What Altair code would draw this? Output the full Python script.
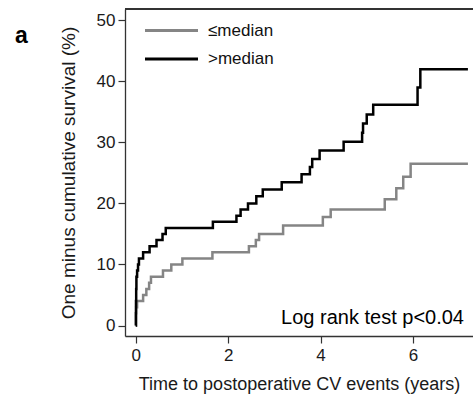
import altair as alt
import pandas as pd

# >median group (black)
hi_t = [0, 0.003, 0.006, 0.01, 0.015, 0.03, 0.05, 0.07, 0.16, 0.30, 0.45, 0.58, 0.65,
        1.67, 2.18, 2.27, 2.43, 2.61, 2.75, 3.16, 3.59, 3.77, 3.82, 3.98, 4.50,
        4.90, 4.92, 5.00, 5.14, 6.10, 6.16, 7.19]
hi_v = [0, 2, 4, 6, 8, 9, 10, 11, 12, 13, 14, 15, 16,
        17, 18, 19, 20, 21.2, 22.3, 23.5, 24.8, 26.0, 27.3, 28.7, 30.1,
        31.6, 33.1, 34.6, 36.2, 39.0, 42.0, 42.0]

# <=median group (gray)
lo_t = [0, 0.01, 0.03, 0.16, 0.23, 0.29, 0.33, 0.59, 0.77, 1.01, 1.66, 2.45, 2.60,
        2.67, 3.19, 4.05, 4.22, 5.39, 5.64, 5.79, 5.95, 7.19]
lo_v = [0, 3, 4, 5, 6, 7, 8, 9, 10, 11, 12, 13, 14,
        15, 16.4, 17.8, 19.0, 20.7, 22.5, 24.4, 26.5, 26.5]

groups = ["≤median", ">median"]
colors = ["#858585", "#000000"]
y_ticks = [0, 10, 20, 30, 40, 50]
x_ticks = [0, 2, 4, 6]
annotation = "Log rank test p<0.04"
panel_label = "a"

df = pd.concat([
    pd.DataFrame({"t": lo_t, "v": lo_v, "g": groups[0]}),
    pd.DataFrame({"t": hi_t, "v": hi_v, "g": groups[1]}),
])

W, H = 348, 327
FONT = "Liberation Sans"
AX = "#333333"
TX = "#1a1a1a"

lines = alt.Chart(df).mark_line(interpolate="step-after", strokeWidth=2.5, clip=True).encode(
    x=alt.X("t:Q", scale=alt.Scale(domain=[-0.232, 7.30], nice=False, zero=False),
            axis=alt.Axis(values=x_ticks, title="Time to postoperative CV events (years)",
                          grid=False, tickSize=7, labelPadding=4, titlePadding=12,
                          labelFontSize=17, titleFontSize=18, labelFont=FONT, titleFont=FONT,
                          titleFontWeight="normal", domainColor=AX, tickColor=AX,
                          labelColor=TX, titleColor=TX, domainWidth=1.3, tickWidth=1.2)),
    y=alt.Y("v:Q", scale=alt.Scale(domain=[-1.72, 51.88], nice=False, zero=False),
            axis=alt.Axis(values=y_ticks, title="One minus cumulative survival (%)",
                          grid=False, tickSize=7, labelPadding=3, titlePadding=18,
                          labelFontSize=17, titleFontSize=19, labelFont=FONT, titleFont=FONT,
                          titleFontWeight="normal", domainColor=AX, tickColor=AX,
                          labelColor=TX, titleColor=TX, domainWidth=1.3, tickWidth=1.2)),
    color=alt.Color("g:N", scale=alt.Scale(domain=groups, range=colors), legend=None),
    detail="g:N",
)

top_rule = alt.Chart(df).mark_rule(color=AX, strokeWidth=1.3).encode(
    x=alt.value(0), x2=alt.value(W), y=alt.value(0)
)

leg_df = pd.DataFrame({"g": groups})
leg_y = alt.Y("g:N", scale=alt.Scale(type="point", domain=groups, range=[21.5, 50], padding=0),
              axis=None)
leg_lines = alt.Chart(leg_df).mark_rule(strokeWidth=3).encode(
    x=alt.value(20), x2=alt.value(73),
    y=leg_y,
    color=alt.Color("g:N", scale=alt.Scale(domain=groups, range=colors), legend=None),
)
leg_text = alt.Chart(leg_df).mark_text(align="left", baseline="middle", fontSize=17,
                                       font=FONT, color="#111111").encode(
    x=alt.value(83),
    y=leg_y,
    text="g:N",
)

ann = alt.Chart(pd.DataFrame({"s": [annotation]})).mark_text(
    align="right", baseline="alphabetic", fontSize=20, font=FONT, color="#000000"
).encode(x=alt.value(339), y=alt.value(315), text="s:N")

lab = alt.Chart(pd.DataFrame({"s": [panel_label]})).mark_text(
    align="left", baseline="alphabetic", fontSize=23, fontWeight="bold", font=FONT, color="#000000"
).encode(x=alt.value(-110), y=alt.value(34), text="s:N")

chart = alt.layer(lines, top_rule, leg_lines, leg_text, ann, lab).resolve_scale(
    y="independent"
).properties(
    width=W, height=H,
    autosize=alt.AutoSizeParams(type="none"),
    padding={"left": 125, "top": 9, "right": 0, "bottom": 61},
).configure_view(stroke=None).configure(background="white")

chart.save("out.html", embed_options={"renderer": "svg", "actions": False})
